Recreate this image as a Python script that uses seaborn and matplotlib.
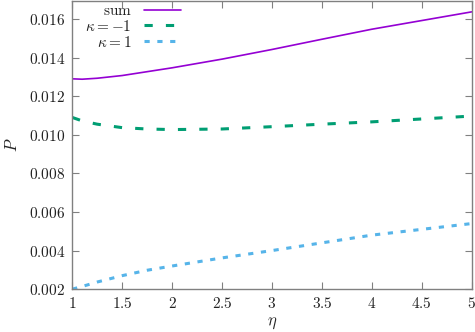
import matplotlib
matplotlib.use("Agg")
import matplotlib.pyplot as plt
import matplotlib.ticker as mticker
import seaborn as sns
import pandas as pd

# values
eta = [1.0, 1.1, 1.25, 1.5, 1.75, 2.0, 2.5, 3.0, 3.5, 4.0, 4.5, 5.0]
p_sum = [0.01290, 0.01288, 0.01293, 0.01307, 0.01327, 0.01347, 0.01392, 0.01442,
         0.01495, 0.01547, 0.01592, 0.01637]
p_km1 = [0.01090, 0.01072, 0.01055, 0.01037, 0.01030, 0.01027, 0.01030, 0.01042,
         0.01055, 0.01067, 0.01082, 0.01097]
p_kp1 = [0.00200, 0.00214, 0.00237, 0.00270, 0.00298, 0.00320, 0.00362, 0.00400,
         0.00440, 0.00480, 0.00510, 0.00540]
series_labels = [r"$\mathrm{sum}$", r"$\kappa=-1$", r"$\kappa=1$"]
x_ticks = [1, 1.5, 2, 2.5, 3, 3.5, 4, 4.5, 5]
y_ticks = [0.002, 0.004, 0.006, 0.008, 0.010, 0.012, 0.014, 0.016]

df = pd.DataFrame({
    "eta": eta * 3,
    "P": p_sum + p_km1 + p_kp1,
    "series": [series_labels[0]] * len(eta) + [series_labels[1]] * len(eta)
              + [series_labels[2]] * len(eta),
})

sns.set_style("ticks")
plt.rcParams["mathtext.fontset"] = "cm"
plt.rcParams["font.family"] = ["DejaVu Serif"]

palette = {series_labels[0]: "#9400d3", series_labels[1]: "#009e73",
           series_labels[2]: "#56b4e9"}

fig = plt.figure(figsize=(4.75, 3.32), dpi=100)
ax = fig.add_axes([0.152, 0.129, 0.841, 0.869])

sns.lineplot(data=df, x="eta", y="P", hue="series", palette=palette, ax=ax,
             legend=False)
lines = ax.get_lines()
lines[0].set_linewidth(1.2)
lines[1].set_linewidth(2.2)
lines[1].set_dashes([2.7, 4.3])
lines[2].set_linewidth(2.2)
lines[2].set_dashes([1.7, 2.5])
for ln, lab in zip(lines, series_labels):
    ln.set_label(lab)

ax.set_xlim(1, 5)
ax.set_ylim(0.002, 0.01695)
ax.set_xticks(x_ticks)
ax.set_yticks(y_ticks)
ax.xaxis.set_major_formatter(mticker.FuncFormatter(lambda v, p: "$%g$" % v))
ax.yaxis.set_major_formatter(mticker.FuncFormatter(lambda v, p: "$%.3f$" % v))
ax.tick_params(direction="in", length=5, width=0.8, color="#808080",
               labelsize=11, labelcolor="#222222", top=True, right=True,
               pad=5)
for s in ax.spines.values():
    s.set_color("#808080")
    s.set_linewidth(1.0)

ax.set_xlabel(r"$\eta$", fontsize=12, labelpad=2)
ax.set_ylabel(r"$P$", fontsize=12, labelpad=6)

leg = ax.legend(loc="upper left", bbox_to_anchor=(0.01, 1.02), frameon=False,
                markerfirst=False, fontsize=11, handlelength=2.4,
                handletextpad=0.8, labelspacing=0.05, borderaxespad=0.2)
for t in leg.get_texts():
    t.set_color("#222222")

fig.savefig("out.png", dpi=100)
